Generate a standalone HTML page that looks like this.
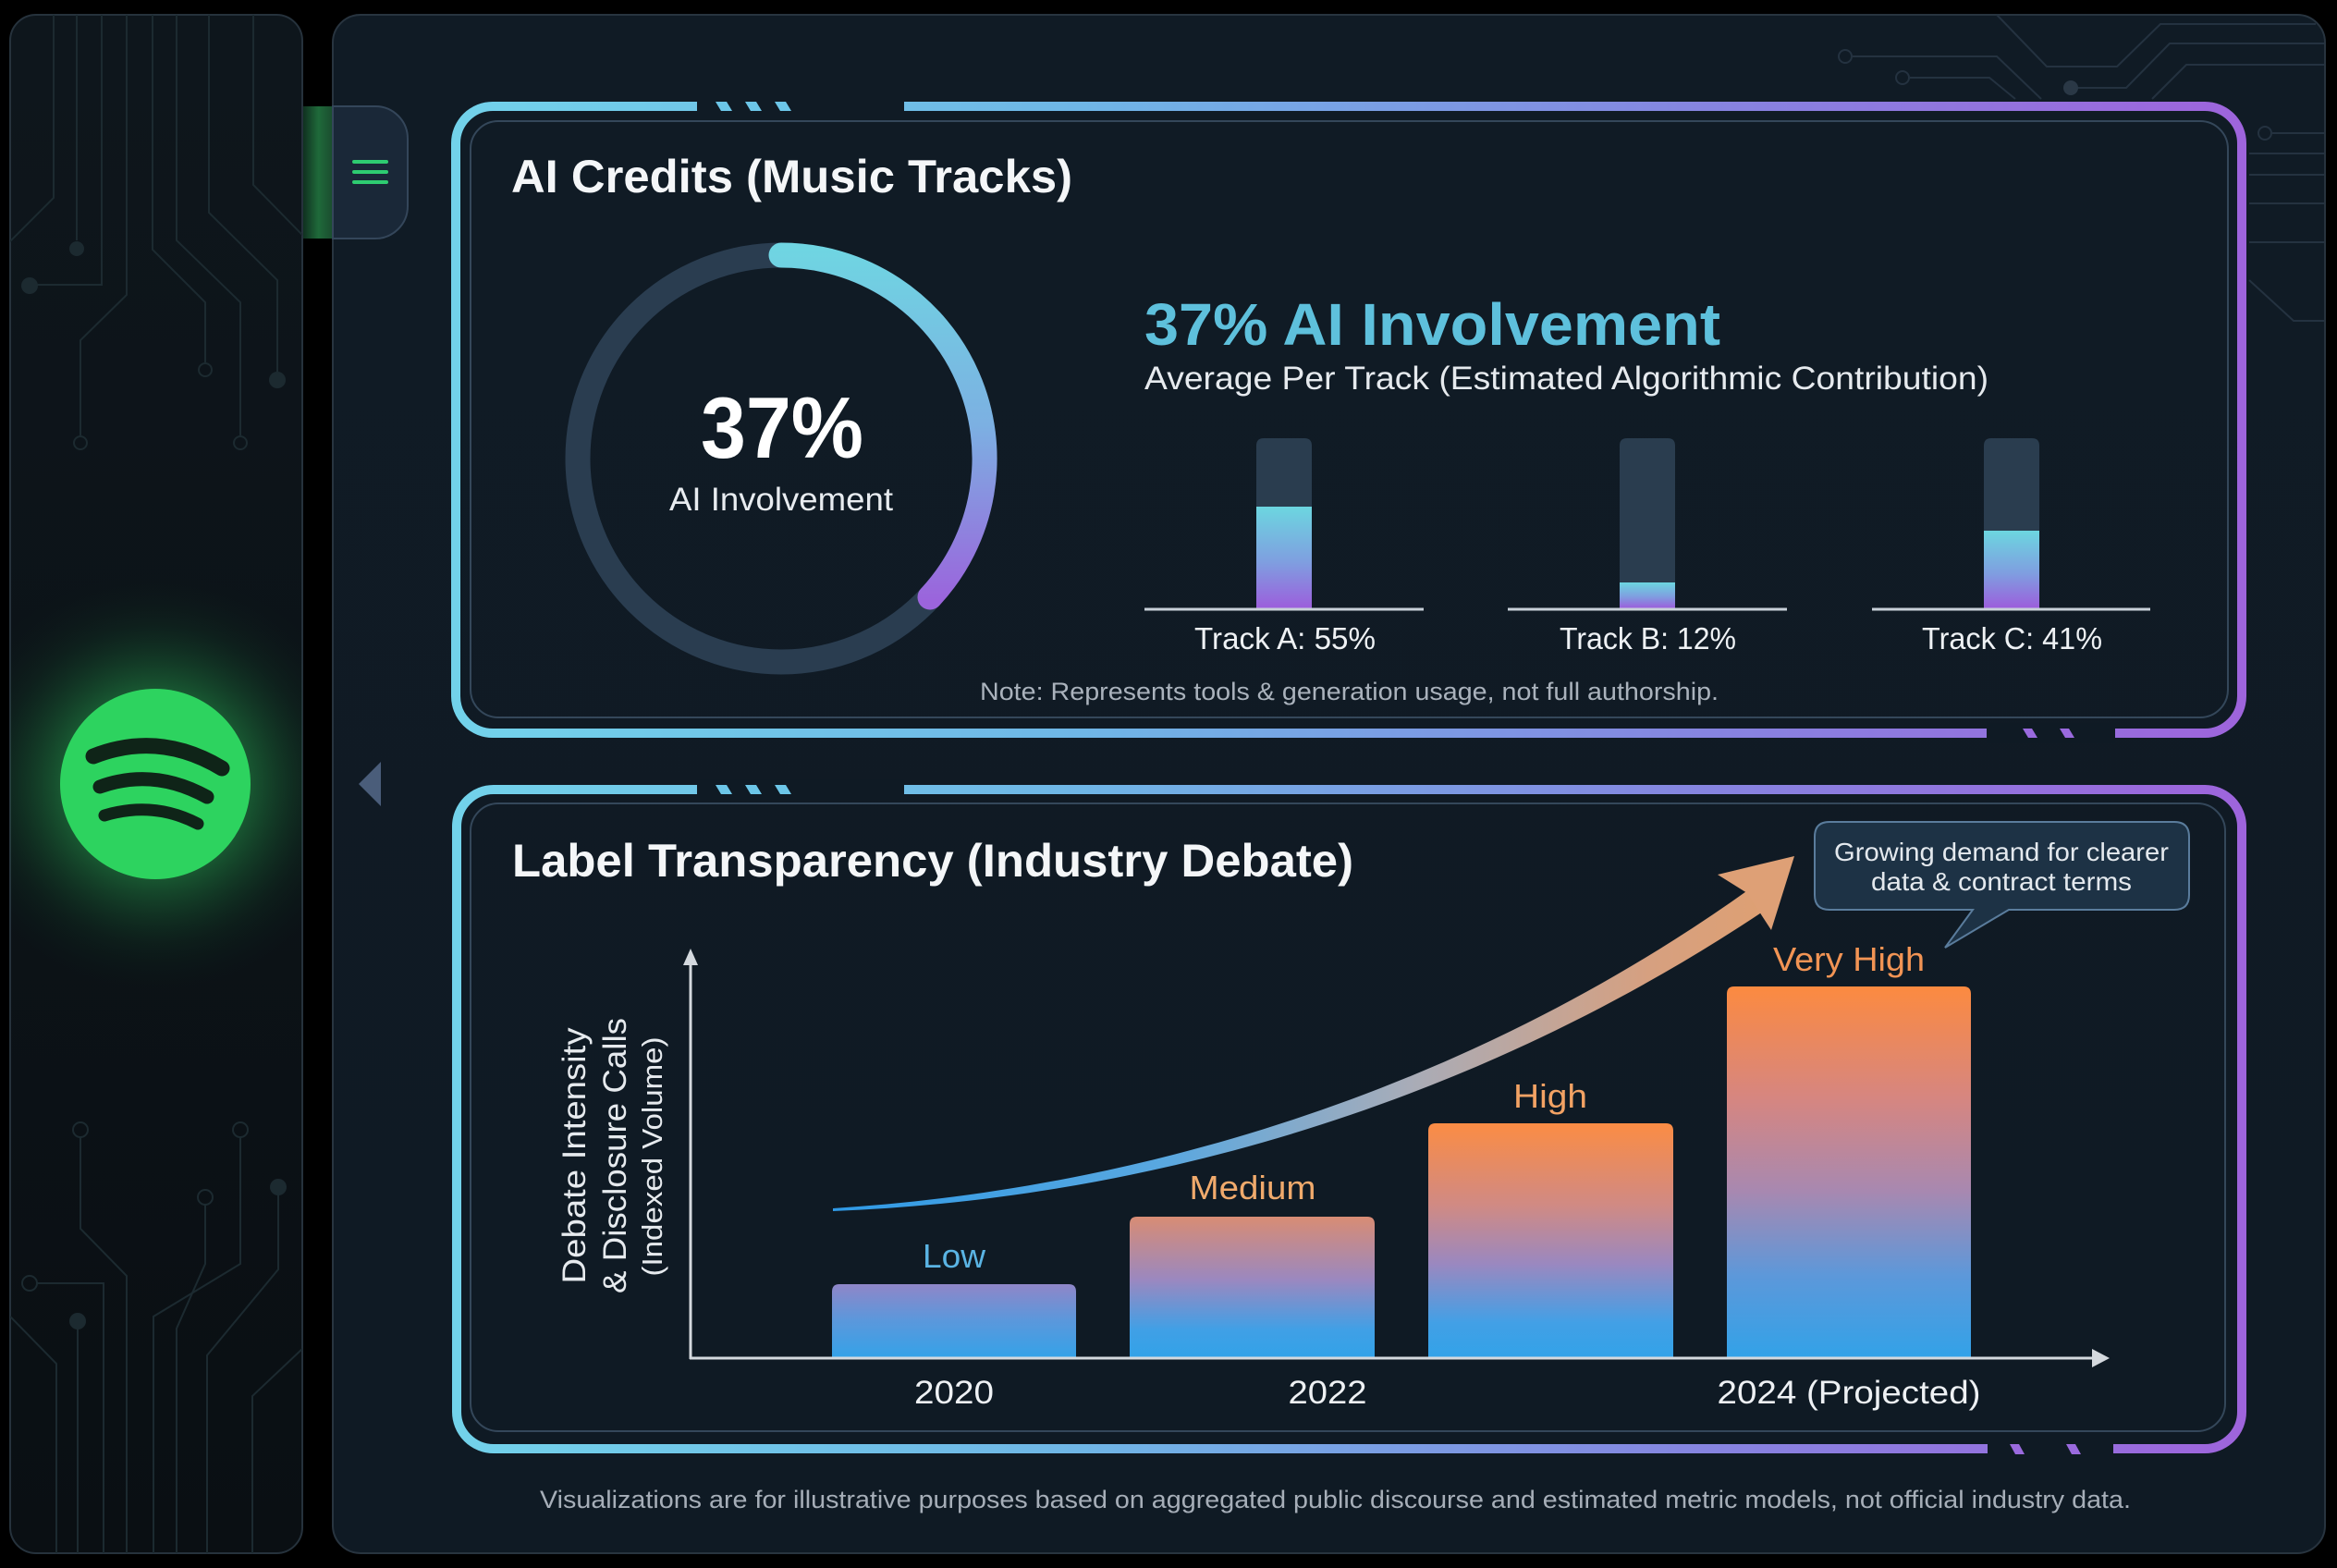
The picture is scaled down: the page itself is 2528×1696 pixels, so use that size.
<!DOCTYPE html>
<html><head><meta charset="utf-8"><style>
html,body{margin:0;padding:0;background:#000;}
svg{display:block;}
text{font-family:"Liberation Sans",sans-serif;}
</style></head><body>
<svg width="2528" height="1696" viewBox="0 0 2528 1696" xmlns="http://www.w3.org/2000/svg">
<defs>
  <linearGradient id="sideG" x1="0" y1="0" x2="0" y2="1">
    <stop offset="0" stop-color="#0e161c"/><stop offset="1" stop-color="#0a0f13"/>
  </linearGradient>
  <linearGradient id="panelG" x1="0" y1="0" x2="0" y2="1">
    <stop offset="0" stop-color="#101b25"/><stop offset="1" stop-color="#0f1a24"/>
  </linearGradient>
  <linearGradient id="borderG" gradientUnits="userSpaceOnUse" x1="488" y1="0" x2="2432" y2="0">
    <stop offset="0" stop-color="#72d2ea"/><stop offset="0.35" stop-color="#6fb6e6"/>
    <stop offset="0.7" stop-color="#8684e0"/><stop offset="1" stop-color="#9e64dc"/>
  </linearGradient>
  <linearGradient id="tabGreen" x1="0" y1="0" x2="1" y2="0">
    <stop offset="0" stop-color="#103020"/><stop offset="0.5" stop-color="#1f6a3a"/><stop offset="1" stop-color="#1a4a2e"/>
  </linearGradient>
  <radialGradient id="spotGlow" cx="168" cy="848" r="230" gradientUnits="userSpaceOnUse">
    <stop offset="0" stop-color="#2ed15f" stop-opacity="0.75"/>
    <stop offset="0.45" stop-color="#2ed15f" stop-opacity="0.35"/>
    <stop offset="0.75" stop-color="#1a7a3a" stop-opacity="0.12"/>
    <stop offset="1" stop-color="#0a2a15" stop-opacity="0"/>
  </radialGradient>
  <clipPath id="sideClip"><rect x="11" y="16" width="316" height="1664" rx="28"/></clipPath>
  <linearGradient id="arcG" gradientUnits="userSpaceOnUse" x1="0" y1="270" x2="0" y2="650">
    <stop offset="0" stop-color="#6fd5e2"/><stop offset="0.5" stop-color="#7cb0e2"/><stop offset="1" stop-color="#9b64dc"/>
  </linearGradient>
  <linearGradient id="tbarG" x1="0" y1="0" x2="0" y2="1">
    <stop offset="0" stop-color="#6cd6e0"/><stop offset="0.55" stop-color="#7f9ee0"/><stop offset="1" stop-color="#9c5edc"/>
  </linearGradient>
  <linearGradient id="bLow" x1="0" y1="0" x2="0" y2="1">
    <stop offset="0" stop-color="#8f86c8"/><stop offset="0.5" stop-color="#5a98dc"/><stop offset="1" stop-color="#34a2e8"/>
  </linearGradient>
  <linearGradient id="bMed" x1="0" y1="0" x2="0" y2="1">
    <stop offset="0" stop-color="#d88c74"/><stop offset="0.45" stop-color="#9a88c0"/><stop offset="0.8" stop-color="#40a0e6"/><stop offset="1" stop-color="#32a2e8"/>
  </linearGradient>
  <linearGradient id="bHigh" x1="0" y1="0" x2="0" y2="1">
    <stop offset="0" stop-color="#fb8c44"/><stop offset="0.35" stop-color="#d08a84"/><stop offset="0.6" stop-color="#9a88c0"/><stop offset="0.85" stop-color="#42a0e6"/><stop offset="1" stop-color="#32a2e8"/>
  </linearGradient>
  <linearGradient id="bVH" x1="0" y1="0" x2="0" y2="1">
    <stop offset="0" stop-color="#fc8a40"/><stop offset="0.3" stop-color="#d68680"/><stop offset="0.55" stop-color="#a888b0"/><stop offset="0.78" stop-color="#5c98da"/><stop offset="1" stop-color="#32a2e8"/>
  </linearGradient>
  <linearGradient id="curveG" gradientUnits="userSpaceOnUse" x1="900" y1="0" x2="1940" y2="0">
    <stop offset="0" stop-color="#2f9ae6"/><stop offset="0.35" stop-color="#5aa8e0"/>
    <stop offset="0.6" stop-color="#a8acb8"/><stop offset="0.85" stop-color="#d6a080"/><stop offset="1" stop-color="#e0a070"/>
  </linearGradient>
</defs>

<rect x="0" y="0" width="2528" height="1696" fill="#000"/>

<!-- Sidebar -->
<rect x="11" y="16" width="316" height="1664" rx="28" fill="url(#sideG)" stroke="#26323c" stroke-width="2"/>
<g clip-path="url(#sideClip)">
  <rect x="11" y="560" width="316" height="580" fill="url(#spotGlow)"/>
  <g stroke="#1c2a30" stroke-width="2" fill="none">
    <path d="M58,16 V214 L10,262"/>
    <path d="M83,16 V260"/>
    <path d="M110,16 V308 H40"/>
    <path d="M137,16 V319 L87,368 V471"/>
    <path d="M165,16 V270 L222,327 V392"/>
    <path d="M191,16 V260 L260,327 V471"/>
    <path d="M226,16 V230 L300,303 V402"/>
    <path d="M274,16 V200 L327,254"/>
    <path d="M87,1230 V1329 L137,1380 V1680"/>
    <path d="M260,1230 V1367 L166,1424 V1680"/>
    <path d="M222,1303 V1367 L191,1437 V1680"/>
    <path d="M301,1284 V1373 L224,1466 V1680"/>
    <path d="M40,1388 H112 V1680"/>
    <path d="M84,1429 V1680"/>
    <path d="M11,1424 L61,1475 V1680"/>
    <path d="M327,1459 L273,1510 V1680"/>
  </g>
  <g fill="none" stroke="#1c2a30" stroke-width="2">
    <circle cx="32" cy="309" r="0"/>
    <circle cx="87" cy="479" r="7"/><circle cx="222" cy="400" r="7"/><circle cx="260" cy="479" r="7"/>
    <circle cx="87" cy="1222" r="8"/><circle cx="260" cy="1222" r="8"/><circle cx="222" cy="1295" r="8"/><circle cx="32" cy="1388" r="8"/>
  </g>
  <g fill="#1c2a30">
    <circle cx="83" cy="269" r="8"/><circle cx="32" cy="309" r="9"/><circle cx="300" cy="411" r="9"/>
    <circle cx="301" cy="1284" r="9"/><circle cx="84" cy="1429" r="9"/>
  </g>
</g>

<!-- Spotify logo -->
<circle cx="168" cy="848" r="103" fill="#2dd35f"/>
<g stroke="#0f2418" fill="none" stroke-linecap="round">
  <path d="M101,818 Q172,790 240,831" stroke-width="17"/>
  <path d="M108,851 Q166,830 224,862" stroke-width="15"/>
  <path d="M113,882 Q166,866 214,891" stroke-width="13"/>
</g>

<!-- Main panel -->
<rect x="360" y="16" width="2155" height="1664" rx="30" fill="url(#panelG)" stroke="#28343f" stroke-width="2"/>

<!-- circuits top right -->
<g stroke="#243240" stroke-width="2" fill="none">
  <path d="M2004,61 H2160 L2208,107"/>
  <path d="M2066,84 H2152 L2180,107"/>
  <path d="M2160,16 L2214,72 H2290 L2337,26 H2505"/>
  <path d="M2240,95 H2300 L2347,47 H2514"/>
  <path d="M2328,107 L2365,70 H2514"/>
  <path d="M2458,144 H2514"/>
  <path d="M2433,166 H2514"/><path d="M2433,189 H2514"/><path d="M2433,220 H2514"/><path d="M2433,262 H2514"/>
  <path d="M2433,303 L2481,347 H2514"/>
  <circle cx="1996" cy="61" r="7"/><circle cx="2058" cy="84" r="7"/><circle cx="2450" cy="144" r="7"/>
</g>
<circle cx="2240" cy="95" r="8" fill="#2a3846"/>

<!-- tab -->
<rect x="328" y="115" width="33" height="143" fill="url(#tabGreen)"/>
<path d="M360,115 H406 A35,35 0 0 1 441,150 V223 A35,35 0 0 1 406,258 H360 Z" fill="#1a2838" stroke="#34465a" stroke-width="2"/>
<g stroke="#2ecc71" stroke-width="4" stroke-linecap="round">
  <line x1="383" y1="175" x2="418" y2="175"/><line x1="383" y1="186" x2="418" y2="186"/><line x1="383" y1="197" x2="418" y2="197"/>
</g>

<!-- left triangle -->
<path d="M388,848 L412,824 L412,872 Z" fill="#4a5d7a"/>

<!-- ============ TOP CARD ============ -->
<rect x="493" y="115" width="1932" height="678" rx="40" fill="none" stroke="url(#borderG)" stroke-width="10"/>
<rect x="509" y="131" width="1901" height="645" rx="30" fill="none" stroke="#34475a" stroke-width="2"/>
<!-- gaps -->
<rect x="754" y="104" width="224" height="22" fill="#101b25"/>
<rect x="2149" y="782" width="139" height="22" fill="#0f1a24"/>
<g fill="#6cc6e8">
  <polygon points="774,110 786,110 792,120 780,120"/>
  <polygon points="806,110 818,110 824,120 812,120"/>
  <polygon points="838,110 850,110 856,120 844,120"/>
</g>
<g fill="#9a6ade">
  <polygon points="2188,788 2198,788 2204,798 2194,798"/>
  <polygon points="2228,788 2238,788 2244,798 2234,798"/>
</g>

<text x="553" y="208" font-size="50" font-weight="bold" fill="#f4f6f8" textLength="607" lengthAdjust="spacingAndGlyphs">AI Credits (Music Tracks)</text>

<!-- donut -->
<circle cx="845" cy="496" r="220" fill="none" stroke="#2a3d50" stroke-width="27"/>
<path d="M845,276 A220,220 0 0 1 1006,646" fill="none" stroke="url(#arcG)" stroke-width="27" stroke-linecap="round"/>
<text x="758" y="495" font-size="94" font-weight="bold" fill="#ffffff" textLength="176" lengthAdjust="spacingAndGlyphs">37%</text>
<text x="724" y="552" font-size="35" fill="#e8ecf0" textLength="242" lengthAdjust="spacingAndGlyphs">AI Involvement</text>

<text x="1238" y="373" font-size="64" font-weight="bold" fill="#5ec0dc" textLength="623" lengthAdjust="spacingAndGlyphs">37% AI Involvement</text>
<text x="1238" y="421" font-size="35" fill="#e6eaee" textLength="913" lengthAdjust="spacingAndGlyphs">Average Per Track (Estimated Algorithmic Contribution)</text>

<!-- track bars -->
<g>
  <path d="M1359,658 V482 Q1359,474 1367,474 H1411 Q1419,474 1419,482 V658 Z" fill="#2a3d4f"/>
  <rect x="1359" y="548" width="60" height="110" fill="url(#tbarG)"/>
  <path d="M1752,658 V482 Q1752,474 1760,474 H1804 Q1812,474 1812,482 V658 Z" fill="#2a3d4f"/>
  <rect x="1752" y="630" width="60" height="28" fill="url(#tbarG)"/>
  <path d="M2146,658 V482 Q2146,474 2154,474 H2198 Q2206,474 2206,482 V658 Z" fill="#2a3d4f"/>
  <rect x="2146" y="574" width="60" height="84" fill="url(#tbarG)"/>
  <g stroke="#c8d0d8" stroke-width="3">
    <line x1="1238" y1="659" x2="1540" y2="659"/>
    <line x1="1631" y1="659" x2="1933" y2="659"/>
    <line x1="2025" y1="659" x2="2326" y2="659"/>
  </g>
</g>
<text x="1292" y="702" font-size="33" fill="#eef1f4" textLength="196" lengthAdjust="spacingAndGlyphs">Track A: 55%</text>
<text x="1687" y="702" font-size="33" fill="#eef1f4" textLength="191" lengthAdjust="spacingAndGlyphs">Track B: 12%</text>
<text x="2079" y="702" font-size="33" fill="#eef1f4" textLength="195" lengthAdjust="spacingAndGlyphs">Track C: 41%</text>
<text x="1060" y="757" font-size="27" fill="#aab2bc" textLength="799" lengthAdjust="spacingAndGlyphs">Note: Represents tools &amp; generation usage, not full authorship.</text>

<!-- ============ BOTTOM CARD ============ -->
<rect x="494" y="854" width="1931" height="713" rx="40" fill="none" stroke="url(#borderG)" stroke-width="10"/>
<rect x="509" y="869" width="1898" height="679" rx="30" fill="none" stroke="#34475a" stroke-width="2"/>
<rect x="754" y="843" width="224" height="22" fill="#0f1a24"/>
<rect x="2150" y="1556" width="136" height="22" fill="#0f1a24"/>
<g fill="#6cc6e8">
  <polygon points="774,849 786,849 792,859 780,859"/>
  <polygon points="806,849 818,849 824,859 812,859"/>
  <polygon points="838,849 850,849 856,859 844,859"/>
</g>
<g fill="#9a6ade">
  <polygon points="2174,1562 2184,1562 2190,1573 2180,1573"/>
  <polygon points="2235,1562 2245,1562 2251,1573 2241,1573"/>
</g>

<text x="554" y="948" font-size="50" font-weight="bold" fill="#f4f6f8" textLength="910" lengthAdjust="spacingAndGlyphs">Label Transparency (Industry Debate)</text>

<!-- y label -->
<text transform="translate(633,1250) rotate(-90)" text-anchor="middle" font-size="35" fill="#e6eaee" textLength="277" lengthAdjust="spacingAndGlyphs">Debate Intensity</text>
<text transform="translate(677,1250) rotate(-90)" text-anchor="middle" font-size="35" fill="#e6eaee" textLength="298" lengthAdjust="spacingAndGlyphs">&amp; Disclosure Calls</text>
<text transform="translate(716,1251) rotate(-90)" text-anchor="middle" font-size="31" fill="#e6eaee" textLength="259" lengthAdjust="spacingAndGlyphs">(Indexed Volume)</text>

<!-- bars -->
<path d="M900,1469 V1397 Q900,1389 908,1389 H1156 Q1164,1389 1164,1397 V1469 Z" fill="url(#bLow)"/>
<path d="M1222,1469 V1324 Q1222,1316 1230,1316 H1479 Q1487,1316 1487,1324 V1469 Z" fill="url(#bMed)"/>
<path d="M1545,1469 V1223 Q1545,1215 1553,1215 H1802 Q1810,1215 1810,1223 V1469 Z" fill="url(#bHigh)"/>
<path d="M1868,1469 V1075 Q1868,1067 1876,1067 H2124 Q2132,1067 2132,1075 V1469 Z" fill="url(#bVH)"/>

<!-- axes -->
<g stroke="#d4d9de" stroke-width="3" fill="none">
  <line x1="747" y1="1040" x2="747" y2="1470"/>
  <line x1="746" y1="1469" x2="2268" y2="1469"/>
</g>
<path d="M747,1026 L739,1044 L755,1044 Z" fill="#d4d9de"/>
<path d="M2282,1469 L2263,1459 L2263,1479 Z" fill="#d4d9de"/>

<!-- bar labels -->
<text x="1032" y="1371" text-anchor="middle" font-size="36" fill="#5ab4e4" textLength="68" lengthAdjust="spacingAndGlyphs">Low</text>
<text x="1355" y="1297" text-anchor="middle" font-size="36" fill="#f0aa6c" textLength="137" lengthAdjust="spacingAndGlyphs">Medium</text>
<text x="1677" y="1198" text-anchor="middle" font-size="36" fill="#f2a264" textLength="80" lengthAdjust="spacingAndGlyphs">High</text>
<text x="2000" y="1050" text-anchor="middle" font-size="36" fill="#f29454" textLength="164" lengthAdjust="spacingAndGlyphs">Very High</text>

<text x="1032" y="1518" text-anchor="middle" font-size="35" fill="#eef1f4" textLength="86" lengthAdjust="spacingAndGlyphs">2020</text>
<text x="1436" y="1518" text-anchor="middle" font-size="35" fill="#eef1f4" textLength="85" lengthAdjust="spacingAndGlyphs">2022</text>
<text x="2000" y="1518" text-anchor="middle" font-size="35" fill="#eef1f4" textLength="285" lengthAdjust="spacingAndGlyphs">2024 (Projected)</text>

<!-- trend curve -->
<path d="M901,1307 C1249,1285 1598,1172 1892,962 L1910,984 C1602,1190 1251,1296 901,1310 Z" fill="url(#curveG)"/>
<path d="M1941,926 L1858,946 L1890,966 L1916,1006 Z" fill="#dea076"/>

<!-- callout -->
<path d="M1979,889 H2352 Q2368,889 2368,905 V968 Q2368,984 2352,984 H2173 L2104,1025 L2134,984 H1979 Q1963,984 1963,968 V905 Q1963,889 1979,889 Z" fill="#1d3245" stroke="#5a7c9c" stroke-width="2"/>
<text x="2165" y="931" text-anchor="middle" font-size="28" fill="#e4e9ee" textLength="362" lengthAdjust="spacingAndGlyphs">Growing demand for clearer</text>
<text x="2165" y="963" text-anchor="middle" font-size="28" fill="#e4e9ee" textLength="282" lengthAdjust="spacingAndGlyphs">data &amp; contract terms</text>

<!-- footer -->
<text x="584" y="1631" font-size="27" fill="#a6aeb8" textLength="1721" lengthAdjust="spacingAndGlyphs">Visualizations are for illustrative purposes based on aggregated public discourse and estimated metric models, not official industry data.</text>
</svg>
</body></html>
